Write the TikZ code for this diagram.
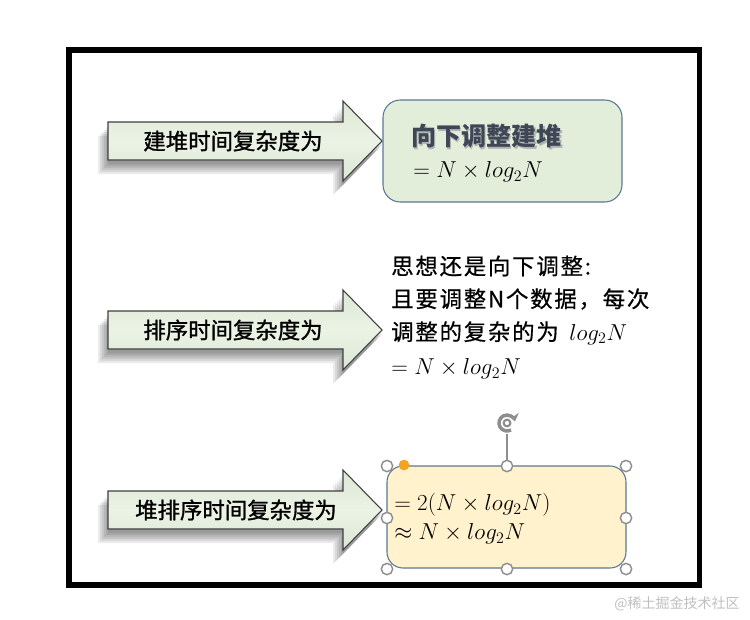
\documentclass[tikz,border=0pt]{standalone}
\usepackage{fontspec}
\usetikzlibrary{arrows.meta}
\newfontfamily\cjk{Noto Sans CJK SC}
\newfontfamily\cjkmed[FakeBold=1.2]{Noto Sans CJK SC}
\newfontfamily\cjksp[LetterSpace=8,FakeBold=0.6]{Noto Sans CJK SC}
\definecolor{arrowline}{HTML}{3F3F3F}
\definecolor{greenfill}{HTML}{E3EEDA}
\definecolor{boxline}{HTML}{5A7896}
\definecolor{yellowfill}{HTML}{FFF2CC}
\definecolor{handle}{HTML}{8E8E8E}
\definecolor{orangedot}{HTML}{F2A422}
\definecolor{titlecol}{HTML}{3E4756}
\tikzset{
  arrowbody/.style={draw=arrowline,line width=0.8pt,top color=greenfill!97!black,bottom color=greenfill!97!black,middle color=greenfill!70!white},
  arrowshadow/.style={fill=black,opacity=0.08},
  arrowtext/.style={font=\cjkmed\fontsize{16.8}{20}\selectfont,text=black,inner sep=0pt},
  mathtext/.style={font=\fontsize{18}{22}\selectfont,inner sep=0pt,anchor=west},
  linetext/.style={font=\cjksp\fontsize{16.8}{20}\selectfont,inner sep=0pt,anchor=west},
  handlestyle/.style={circle,draw=handle,fill=white,line width=1.1pt,minimum size=8.5pt,inner sep=0pt},
}
\newcommand\arrowpath[1]{(108,#1-19) -- (343,#1-19) -- (343,#1-40) -- (382,#1) -- (343,#1+40) -- (343,#1+19) -- (108,#1+19) -- cycle}
\begin{document}
\begin{tikzpicture}[x=0.75pt,y=-0.75pt]
\useasboundingbox (0,0) rectangle (750,619);
\fill[white] (0,0) rectangle (750,619);
\draw[line width=4.3pt] (69,50) rectangle (699.5,585);

% arrow shadows and arrows
\foreach \ty in {141,330,510}{
  \foreach \d in {0,2,4,6,8,10}{
    \fill[arrowshadow,shift={(-\d,\d+4)}] \arrowpath{\ty};
  }
  \fill[white] \arrowpath{\ty};
  \path[arrowbody] \arrowpath{\ty};
}
\node[arrowtext] (a1) at (233,141) {建堆时间复杂度为};
\node[arrowtext] (a2) at (233,330) {排序时间复杂度为};
\node[arrowtext] (a3) at (236,510) {堆排序时间复杂度为};

% box 1
\draw[boxline,fill=greenfill,line width=0.8pt,rounded corners=13pt] (383,100) rectangle (622,202);
\node[font=\cjk\bfseries\fontsize{18.8}{20}\selectfont,text=black!30,inner sep=0pt,anchor=west] at (412.5,137.5) {向下调整建堆};
\node[font=\cjk\bfseries\fontsize{18.8}{20}\selectfont,text=titlecol,inner sep=0pt,anchor=west] (t1) at (411,136) {向下调整建堆};
\node[mathtext] (m1) at (413,172) {$=N\times log_2N$};

% text 2
\node[linetext] (l1) at (391,266) {思想还是向下调整:};
\node[linetext] (l2) at (391,299) {且要调整N个数据，每次};
\node[linetext] (l3) at (391,333) {调整的复杂的为 \,{\fontsize{18}{22}\selectfont$log_2N$}};
\node[mathtext] (m2) at (391,369) {$=N\times log_2N$};

% box 3 with selection handles
\draw[boxline,fill=yellowfill,line width=0.8pt,rounded corners=12pt] (387,466) rectangle (626,568);
\node[mathtext,font=\fontsize{18.6}{22}\selectfont] (m3) at (394,505) {$=2(N\times log_2N)$};
\node[mathtext,font=\fontsize{18.6}{22}\selectfont] (m4) at (394,534) {$\approx N\times log_2N$};
\coordinate (rot) at (507,423);
\node[handlestyle] (h2) at (507,466) {};
\draw[handle,line width=1pt] (h2.north) -- (507,434);
\draw[handle,line width=2.6pt,-{Stealth[length=6pt,width=8pt]}] ([shift={(60:8)}]rot) arc[start angle=60,end angle=350,radius=8];
\node[handlestyle,minimum size=5pt,line width=1.6pt] (rc) at (rot) {};
\node[handlestyle] (h1) at (387,466) {};
\node[handlestyle] (h3) at (626,466) {};
\node[handlestyle] (h4) at (387,518) {};
\node[handlestyle] (h5) at (626,518) {};
\node[handlestyle] (h6) at (387,569) {};
\node[handlestyle] (h7) at (507,569) {};
\node[handlestyle] (h8) at (626,569) {};
\node[circle,fill=orangedot,minimum size=8pt,inner sep=0pt] (od) at (404,465) {};

% watermark
\node[font=\cjk\fontsize{10.5}{12}\selectfont,text=black!25,inner sep=0pt] (wm) at (677,604) {@稀土掘金技术社区};
\end{tikzpicture}
\end{document}
